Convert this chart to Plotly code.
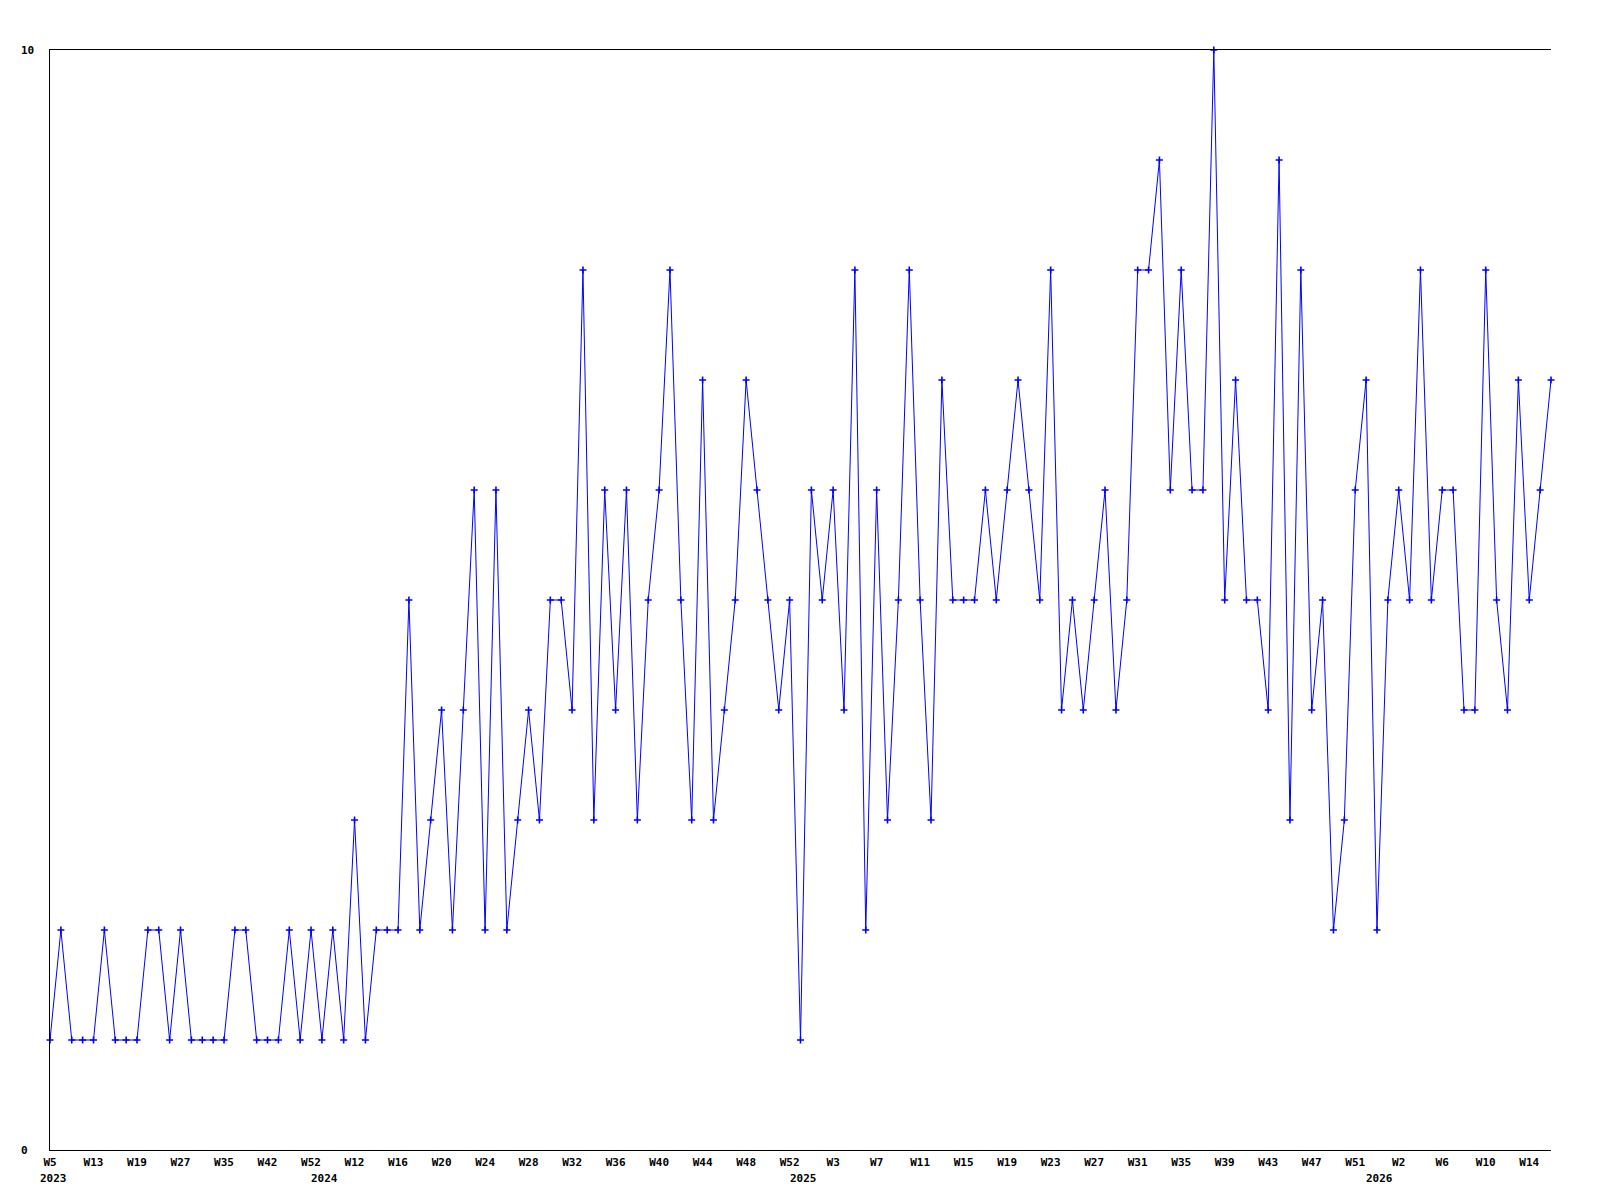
import plotly.graph_objects as go

# Weekly values, one per data point (left to right)
values = (
    [1, 2, 1, 1, 1, 2, 1, 1, 1, 2]
    + [2, 1, 2, 1, 1, 1, 1, 2, 2, 1]
    + [1, 1, 2, 1, 2, 1, 2, 1, 3, 1]
    + [2, 2, 2, 5, 2, 3, 4, 2, 4, 6]
    + [2, 6, 2, 3, 4, 3, 5, 5, 4, 8]
    + [3, 6, 4, 6, 3, 5, 6, 8, 5, 3]
    + [7, 3, 4, 5, 7, 6, 5, 4, 5, 1]
    + [6, 5, 6, 4, 8, 2, 6, 3, 5, 8]
    + [5, 3, 7, 5, 5, 5, 6, 5, 6, 7]
    + [6, 5, 8, 4, 5, 4, 5, 6, 4, 5]
    + [8, 8, 9, 6, 8, 6, 6, 10, 5, 7]
    + [5, 5, 4, 9, 3, 8, 4, 5, 2, 3]
    + [6, 7, 2, 5, 6, 5, 8, 5, 6, 6]
    + [4, 4, 8, 5, 4, 7, 5, 6, 7]
)

# Week labels shown on every 4th point
week_labels = [
    "W5", "W13", "W19", "W27", "W35", "W42", "W52",
    "W12", "W16", "W20", "W24", "W28", "W32", "W36", "W40", "W44", "W48", "W52",
    "W3", "W7", "W11", "W15", "W19", "W23", "W27", "W31", "W35", "W39", "W43", "W47", "W51",
    "W2", "W6", "W10", "W14",
]
label_step = 4

# Year labels and the index of the first point of each year
years = ["2023", "2024", "2025", "2026"]
year_first_point = [0, 25, 69, 122]

y_ticks = [0, 10]
y_tick_labels = ["0", "10"]

x = list(range(len(values)))
tickvals = [x[i] for i in range(0, len(x), label_step)][: len(week_labels)]

FONT = dict(family="DejaVu Sans Mono", size=11, color="black", weight="bold")

fig = go.Figure()
fig.add_trace(
    go.Scatter(
        x=x,
        y=values,
        mode="lines+markers",
        line=dict(color="#0000ff", width=1),
        marker=dict(symbol="cross-thin", size=5, line=dict(color="#0000ff", width=1.6), color="#0000ff"),
        cliponaxis=False,
        hoverinfo="skip",
    )
)

annotations = []
for yr, idx in zip(years, year_first_point):
    annotations.append(
        dict(
            x=x[idx], y=0, xref="x", yref="paper",
            text=yr, showarrow=False, font=FONT,
            xanchor="center", yanchor="top", yshift=-20, xshift=3,
        )
    )
for v, t in zip(y_ticks, y_tick_labels):
    annotations.append(
        dict(
            x=0, y=v, xref="paper", yref="y",
            text=t, showarrow=False, font=FONT,
            xanchor="left", yanchor="middle", xshift=-31,
        )
    )

fig.update_layout(
    width=1600,
    height=1200,
    margin=dict(l=42, r=57, t=42, b=58),
    paper_bgcolor="white",
    plot_bgcolor="white",
    showlegend=False,
    annotations=annotations,
    xaxis=dict(
        range=[0, len(values) - 1],
        tickmode="array",
        tickvals=tickvals,
        ticktext=week_labels,
        tickfont=FONT,
        showgrid=False,
        zeroline=False,
        showline=True,
        linecolor="black",
        linewidth=1,
        mirror=True,
        ticks="",
        ticklabelstandoff=2,
    ),
    yaxis=dict(
        range=[0, 10],
        tickmode="array",
        tickvals=y_ticks,
        showticklabels=False,
        showgrid=False,
        zeroline=False,
        showline=True,
        linecolor="black",
        linewidth=1,
        ticks="",
    ),
)

fig.write_html("out.html")
